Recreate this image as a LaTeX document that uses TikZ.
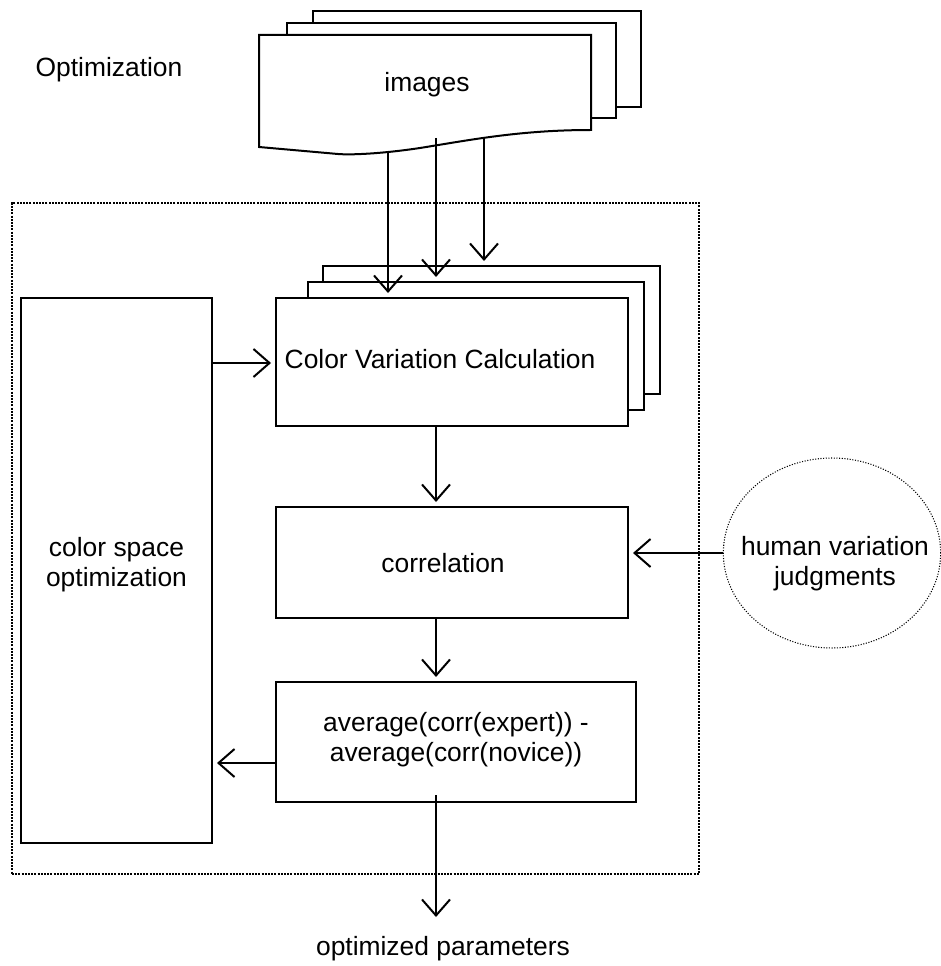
\documentclass[tikz,border=0pt]{standalone}
\usepackage{fontspec}
\setmainfont{Liberation Sans}
\usetikzlibrary{arrows.meta,fit,shapes.geometric,calc}
\begin{document}
\begin{tikzpicture}[x=0.75pt,y=-0.75pt,
  lbl/.style={font=\fontsize{19.8pt}{22.5pt}\selectfont, inner sep=0pt, align=center},
  boxn/.style={draw, line width=1.5pt, fill=white, inner sep=0pt},
  docline/.style={draw, line width=1.5pt, fill=white, line join=miter},
  arr/.style={line width=1.5pt, -{Straight Barb[length=12pt,width=21pt]}, shorten >=3pt},
  dotframe/.style={draw, line width=1.5pt, dash pattern=on 1.5pt off 0.9pt, inner sep=0pt},
  dotell/.style={draw, line width=0.8pt, dash pattern=on 0.8pt off 1.2pt, inner sep=0pt, ellipse},
]
\useasboundingbox (0,0) rectangle (941,966);

% dotted frame
\node[dotframe, fit={(12,203) (699,874)}] (frame) {};

% images stack
\node[boxn, fit={(313,11) (641,107)}] (imgC) {};
\node[boxn, fit={(287,23) (616,118)}] (imgB) {};
\draw[docline] (259,35) -- (591,35) -- (591,130)
  .. controls (520,130) and (470,140) .. (420,148)
  .. controls (380,154) and (350,155) .. (338,154) -- (259,147) -- cycle;
\node[lbl, anchor=base] (imgT) at (427,92) {images};
\coordinate (s1) at (388,153);
\coordinate (s2) at (436,138);
\coordinate (s3) at (484,137);

\node[lbl, anchor=base] (optT) at (109,77) {Optimization};

% colour variation stack
\node[boxn, fit={(323,266) (660,394)}] (cvcC) {};
\node[boxn, fit={(308,282) (644,410)}] (cvcB) {};
\node[boxn, fit={(276,298) (628,426)}] (cvcA) {};
\node[lbl, anchor=base] (cvcT) at (440,368) {Color Variation Calculation};

% other boxes
\node[boxn, fit={(21,298) (212,843)}] (cso) {};
\node[lbl] (csoT) at (116.5,565) {color space\\optimization};
\node[boxn, fit={(276,507) (628,618)}] (corr) {};
\node[lbl, anchor=base] (corrT) at (443,572) {correlation};
\node[boxn, fit={(276,682) (636,802)}] (avg) {};
\node[lbl] (avgT) at (456,740) {average(corr(expert)) -\\average(corr(novice))};

% human judgments
\node[dotell, minimum width=163pt, minimum height=142.5pt] (hum) at (832,553) {};
\node[lbl] (humT) at (835,564) {human variation\\judgments};

% output
\coordinate (outp) at (436,921);
\node[lbl, anchor=base] (outT) at (443,955) {optimized parameters};

% connectors
\coordinate (r1) at (0,363);
\coordinate (r2) at (0,763);
\draw[arr] (s1) -- (s1 |- cvcA.north);
\draw[arr] (s2) -- (s2 |- cvcB.north);
\draw[arr] (s3) -- (s3 |- cvcC.north);
\draw[arr] (cso.east |- r1) -- (cvcA.west |- r1);
\draw[arr] (s2 |- cvcA.south) -- (s2 |- corr.north);
\draw[arr] (s2 |- corr.south) -- (s2 |- avg.north);
\draw[arr] (hum.west) -- (corr.east |- hum.west);
\draw[arr] (avg.west |- r2) -- (cso.east |- r2);
\draw[arr] ([yshift=6pt]s2 |- avg.south) -- (outp);
\end{tikzpicture}
\end{document}
